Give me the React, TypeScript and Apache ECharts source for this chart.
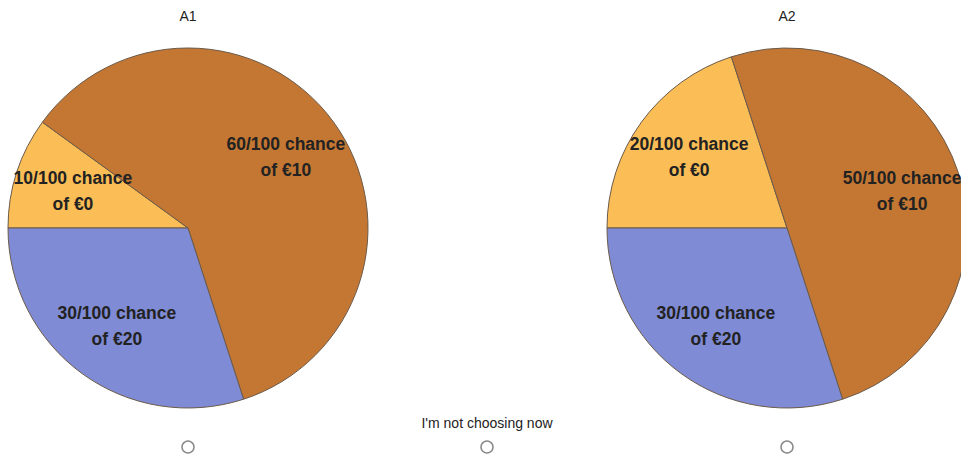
import React, { useEffect, useRef } from "react";
import * as echarts from "echarts";

const titles = ["A1", "A2"];
const sliceNames = ["of €0", "of €10", "of €20"];
const valuesA1 = [10, 60, 30];
const valuesA2 = [20, 50, 30];
const sliceColors = ["#fbbd55", "#c47733", "#7f8bd4"];
const noneLabel = "I'm not choosing now";

export default function App() {
  const ref = useRef<HTMLDivElement>(null);
  useEffect(() => {
    if (!ref.current) return;
    const chart = echarts.init(ref.current, null, { renderer: "svg" });
    const centers = [
      [188, 228],
      [787, 228],
    ];
    const font = "Liberation Sans, Arial, sans-serif";
    const all = [valuesA1, valuesA2];
    const series: any[] = [];
    all.forEach((vals, i) => {
      const data = vals.map((v, j) => ({
        value: v,
        name: sliceNames[j],
        itemStyle: { color: sliceColors[j] },
      }));
      series.push({
        type: "pie",
        center: centers[i],
        radius: [0, 180],
        startAngle: 180,
        clockwise: true,
        silent: true,
        label: { show: false },
        labelLine: { show: false },
        itemStyle: { borderColor: "#6b5a4a", borderWidth: 1 },
        emphasis: { disabled: true },
        data,
      });
      series.push({
        type: "pie",
        center: centers[i],
        radius: [56, 180],
        startAngle: 180,
        clockwise: true,
        silent: true,
        z: 3,
        itemStyle: { color: "rgba(0,0,0,0)", borderWidth: 0 },
        labelLine: { show: false },
        emphasis: { disabled: true },
        label: {
          show: true,
          position: "inside",
          formatter: (p: any) => `${p.value}/100 chance\n${p.name}`,
          color: "#222",
          fontWeight: "bold",
          fontSize: 17.5,
          lineHeight: 26,
          fontFamily: font,
        },
        data: vals.map((v, j) => ({ value: v, name: sliceNames[j] })),
      });
    });
    const radioX = [188, 487, 787];
    chart.setOption({
      animation: false,
      series,
      graphic: [
        ...titles.map((t, i) => ({
          type: "text",
          x: centers[i][0],
          y: 16,
          style: {
            text: t,
            fontSize: 14,
            fill: "#222",
            fontFamily: font,
            align: "center",
            verticalAlign: "middle",
          },
        })),
        {
          type: "text",
          x: 487,
          y: 423,
          style: {
            text: noneLabel,
            fontSize: 14,
            fill: "#222",
            fontFamily: font,
            align: "center",
            verticalAlign: "middle",
          },
        },
        ...radioX.map((x) => ({
          type: "circle",
          shape: { cx: x, cy: 447, r: 6 },
          style: { fill: "#fff", stroke: "#8a8a8a", lineWidth: 1.5 },
        })),
      ],
    });
    return () => chart.dispose();
  }, []);
  return (
    <div
      ref={ref}
      style={{ position: "absolute", left: 0, top: 0, width: 961, height: 460 }}
    />
  );
}
